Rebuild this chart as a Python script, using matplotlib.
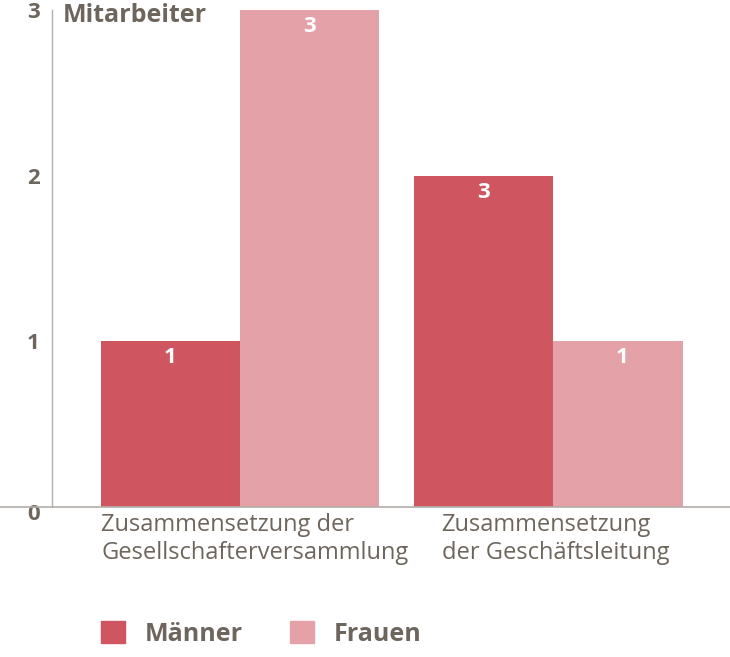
import matplotlib
matplotlib.use("Agg")
import matplotlib.pyplot as plt
import matplotlib.transforms as mtrans
from matplotlib.patches import Patch

# data
categories = ["Zusammensetzung der\nGesellschafterversammlung",
              "Zusammensetzung\nder Geschäftsleitung"]
maenner_height = [1, 2]
frauen_height = [3, 1]
maenner_label = ["1", "3"]
frauen_label = ["3", "1"]
yticks = [0, 1, 2, 3]

C_M = "#cf5560"
C_F = "#e4a2a8"
C_TXT = "#6e665c"
C_LINE = "#b3aea8"

plt.rcParams["font.family"] = ["Open Sans", "DejaVu Sans"]

W, H = 730, 657
fig = plt.figure(figsize=(W / 100, H / 100), dpi=100)
x0, x1, y0, y1 = 52, 683, 507, 10
ax = fig.add_axes([x0 / W, 1 - y0 / H, (x1 - x0) / W, (y0 - y1) / H])

pos = [0, 2.25]
bw = 1.0
bm = ax.bar([p - bw / 2 for p in pos], maenner_height, width=bw, color=C_M)
bf = ax.bar([p + bw / 2 for p in pos], frauen_height, width=bw, color=C_F)

for bars, labs in ((bm, maenner_label), (bf, frauen_label)):
    for b, lab in zip(bars, labs):
        ax.text(b.get_x() + b.get_width() / 2, b.get_height() - 0.1, lab,
                ha="center", va="center", color="white", fontsize=16, fontweight="bold")

ax.set_xlim(-1.353, 3.187)
ax.set_ylim(0, 3)

ax.set_yticks(yticks)
ax.set_yticklabels([str(t) for t in yticks], fontsize=16, fontweight="bold", color=C_TXT)
ax.tick_params(axis="y", length=0, pad=9)
zero = ax.get_yticklabels()[0]
zero.set_transform(zero.get_transform()
                   + mtrans.ScaledTranslation(0, -5 / 100, fig.dpi_scale_trans))

# category labels sit left-aligned below each group
ax.set_xticks([pos[0] - bw, pos[1] - bw + 0.2])
ax.set_xticklabels(categories, fontsize=17, color=C_TXT, ha="left", linespacing=1.25)
ax.tick_params(axis="x", length=0, pad=4)

for s in ["top", "right", "bottom"]:
    ax.spines[s].set_visible(False)
ax.spines["left"].set_color(C_LINE)
ax.spines["left"].set_linewidth(1)
ax.axhline(0, xmin=-x0 / (x1 - x0), xmax=(W - x0) / (x1 - x0), color=C_LINE,
           lw=1.2, clip_on=False, zorder=3)

ax.text(11 / (x1 - x0), 1 - 5 / (y0 - y1), "Mitarbeiter", transform=ax.transAxes,
        ha="left", va="center", fontsize=18, fontweight="bold", color=C_TXT)

handles = [Patch(color=C_M, label="Männer"), Patch(color=C_F, label="Frauen")]
fig.legend(handles=handles, loc="center left", bbox_to_anchor=(78 / W, 1 - 634 / H),
           ncol=2, frameon=False, handlelength=0.96, handleheight=0.92,
           handletextpad=0.8, columnspacing=1.9,
           prop={"size": 18, "weight": "bold"}, labelcolor=C_TXT)

fig.savefig("out.png", dpi=100)
